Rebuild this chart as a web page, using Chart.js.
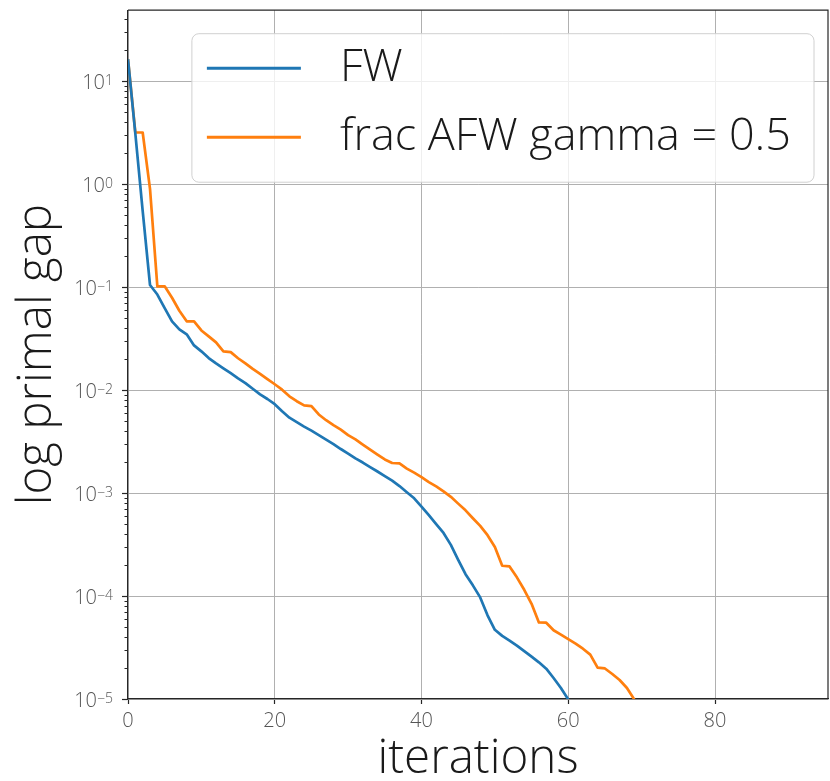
<!DOCTYPE html>
<html>
<head>
<meta charset="utf-8">
<script src="https://cdn.jsdelivr.net/npm/chart.js@4.4.0/dist/chart.umd.min.js"></script>
<style>
    html, body { margin: 0; padding: 0; background: #ffffff; }
    #wrap { width: 830px; height: 781px; }
</style>
</head>
<body>
<div id="wrap"><canvas id="gapChart" width="830" height="781"></canvas></div>
<script>
// Data
const iterations = [0, 1, 2, 3, 4, 5, 6, 7, 8, 9, 10, 11, 12, 13, 14, 15, 16, 17, 18, 19,
    20, 21, 22, 23, 24, 25, 26, 27, 28, 29, 30, 31, 32, 33, 34, 35, 36, 37, 38, 39,
    40, 41, 42, 43, 44, 45, 46, 47, 48, 49, 50, 51, 52, 53, 54, 55, 56, 57, 58, 59,
    60, 61, 62, 63, 64, 65, 66, 67, 68, 69];

const fwGap = [16.4, 3.1, 0.55, 0.105, 0.0848, 0.0627, 0.0466, 0.0389, 0.0348, 0.0272,
    0.0238, 0.0205, 0.0182, 0.0163, 0.0146, 0.0130, 0.0117, 0.0103, 0.0091, 0.0082,
    0.0073, 0.00625, 0.0054, 0.00489, 0.00442, 0.00404, 0.00366, 0.00331, 0.00299, 0.00268,
    0.00242, 0.00217, 0.00198, 0.00179, 0.00162, 0.00146, 0.00132, 0.00117, 0.00102, 0.00089,
    0.00074, 0.00061, 0.0005, 0.00041, 0.000314, 0.000225, 0.000163, 0.000127, 0.000097, 0.000065,
    0.000047, 0.000041, 0.0000369, 0.000033, 0.0000292, 0.0000258, 0.0000227, 0.0000197, 0.000016, 0.0000128,
    0.0000099];

const afwGap = [16.4, 3.18, 3.18, 0.9, 0.102, 0.102, 0.079, 0.059, 0.0466, 0.0466,
    0.038, 0.0333, 0.0291, 0.0238, 0.0234, 0.0204, 0.0182, 0.0161, 0.0144, 0.0128,
    0.0114, 0.0101, 0.0087, 0.0078, 0.0071, 0.0070, 0.0058, 0.0051, 0.00457, 0.00413,
    0.00366, 0.00332, 0.00296, 0.00264, 0.00236, 0.00212, 0.00196, 0.00194, 0.00173, 0.00158,
    0.00143, 0.00128, 0.00116, 0.00104, 0.00092, 0.00079, 0.00068, 0.00057, 0.00048, 0.00039,
    0.0003, 0.000197, 0.000194, 0.000152, 0.000115, 0.0000841, 0.0000554, 0.0000551, 0.0000465, 0.0000422,
    0.0000381, 0.0000345, 0.0000308, 0.000027, 0.0000202, 0.0000198, 0.0000175, 0.0000153, 0.0000128, 0.0000099];

const seriesNames = ['FW', 'frac AFW gamma = 0.5'];
const seriesColors = ['#1f77b4', '#ff7f0e'];
const xTicks = [0, 20, 40, 60, 80];
const yTickExponents = [-5, -4, -3, -2, -1, 0, 1];
const xRange = [0, 95.4];
const yRange = [1e-5, 49];

const FONT = "'Open Sans', 'DejaVu Sans', sans-serif";
const SPINE = '#262626';
const TEXT_WEIGHT = '300';

// spines on top/right, minor log ticks, 10^n labels and the framed legend
const decorations = {
    id: 'decorations',
    afterDraw(chart) {
        const { ctx, chartArea: area } = chart;
        const y = chart.scales.y;
        ctx.save();

        ctx.strokeStyle = SPINE;
        ctx.lineWidth = 1.2;
        ctx.beginPath();
        ctx.moveTo(area.left, area.top);
        ctx.lineTo(area.right, area.top);
        ctx.lineTo(area.right, area.bottom);
        ctx.stroke();

        // minor ticks
        ctx.lineWidth = 1;
        yTickExponents.forEach(e => {
            for (let m = 2; m <= 9; m++) {
                const v = m * Math.pow(10, e);
                if (v > y.max) continue;
                const py = Math.round(y.getPixelForValue(v)) + 0.5;
                ctx.beginPath();
                ctx.moveTo(area.left - 3.5, py);
                ctx.lineTo(area.left, py);
                ctx.stroke();
            }
        });

        // tick labels with superscript exponent
        const labelRight = area.left - 15;
        ctx.fillStyle = '#555555';
        ctx.textAlign = 'right';
        ctx.textBaseline = 'alphabetic';
        yTickExponents.forEach(e => {
            const py = y.getPixelForValue(Math.pow(10, e));
            const sup = e < 0 ? '\u2212' + (-e) : String(e);
            ctx.font = '300 14px ' + FONT;
            const supW = ctx.measureText(sup).width;
            ctx.fillText(sup, labelRight, py + 3.5);
            ctx.font = '300 20px ' + FONT;
            ctx.fillText('10', labelRight - supW, py + 8);
        });

        // legend
        const ds = chart.data.datasets;
        ctx.font = TEXT_WEIGHT + ' 45px ' + FONT;
        const textW = Math.max(...ds.map(d => ctx.measureText(d.label).width));
        const right = area.right - 14;
        const top = area.top + 23.5;
        const bottom = area.top + 172;
        const left = right - (15 + 94 + 39 + textW + 23);
        const r = 7;
        ctx.beginPath();
        ctx.moveTo(left + r, top);
        ctx.lineTo(right - r, top);
        ctx.arcTo(right, top, right, top + r, r);
        ctx.lineTo(right, bottom - r);
        ctx.arcTo(right, bottom, right - r, bottom, r);
        ctx.lineTo(left + r, bottom);
        ctx.arcTo(left, bottom, left, bottom - r, r);
        ctx.lineTo(left, top + r);
        ctx.arcTo(left, top, left + r, top, r);
        ctx.closePath();
        ctx.fillStyle = 'rgba(255,255,255,0.8)';
        ctx.fill();
        ctx.strokeStyle = '#d0d0d0';
        ctx.lineWidth = 1;
        ctx.stroke();

        ds.forEach((d, i) => {
            const ry = top + 34.5 + i * 69;
            ctx.strokeStyle = d.borderColor;
            ctx.lineWidth = 3;
            ctx.beginPath();
            ctx.moveTo(left + 15, ry);
            ctx.lineTo(left + 109, ry);
            ctx.stroke();
            ctx.fillStyle = '#1a1a1a';
            ctx.textAlign = 'left';
            ctx.textBaseline = 'middle';
            ctx.fillText(d.label, left + 148, ry);
        });

        ctx.restore();
    }
};

const ctx = document.getElementById('gapChart').getContext('2d');
const gapChart = new Chart(ctx, {
    type: 'line',
    data: {
        labels: iterations,
        datasets: [
            { label: seriesNames[0], data: fwGap },
            { label: seriesNames[1], data: afwGap }
        ].map((d, i) => Object.assign(d, {
            borderColor: seriesColors[i],
            backgroundColor: seriesColors[i],
            borderWidth: 2.7,
            pointRadius: 0,
            fill: false,
            tension: 0,
            borderJoinStyle: 'round'
        }))
    },
    options: {
        responsive: false,
        devicePixelRatio: 1,
        animation: false,
        layout: { padding: { left: 0, right: 2, top: 8, bottom: 0 } },
        plugins: {
            legend: { display: false },
            tooltip: { enabled: false }
        },
        scales: {
            x: {
                type: 'linear',
                min: xRange[0],
                max: xRange[1],
                afterBuildTicks: s => { s.ticks = xTicks.map(v => ({ value: v })); },
                afterFit: s => { s.height = 82; },
                grid: {
                    color: '#b0b0b0',
                    lineWidth: 1,
                    tickLength: 5,
                    tickColor: SPINE,
                    tickWidth: 1.2
                },
                border: { display: true, color: SPINE, width: 1.2 },
                ticks: {
                    color: '#555555',
                    font: { family: FONT, size: 20, weight: '300' },
                    padding: 5,
                    maxRotation: 0
                },
                title: {
                    display: true,
                    text: 'iterations',
                    color: '#1a1a1a',
                    font: { family: FONT, size: 47.5, weight: TEXT_WEIGHT, lineHeight: 1.05 },
                    padding: { top: 0, bottom: -3 }
                }
            },
            y: {
                type: 'logarithmic',
                min: yRange[0],
                max: yRange[1],
                afterBuildTicks: s => { s.ticks = yTickExponents.map(e => ({ value: Math.pow(10, e) })); },
                afterFit: s => { s.width = 128; },
                grid: {
                    color: '#b0b0b0',
                    lineWidth: 1,
                    tickLength: 6,
                    tickColor: SPINE,
                    tickWidth: 1.2
                },
                border: { display: true, color: SPINE, width: 1.2 },
                ticks: {
                    // drawn by the decorations plugin (superscripts)
                    callback: () => '',
                    autoSkip: false
                },
                title: {
                    display: true,
                    text: 'log primal gap',
                    color: '#1a1a1a',
                    font: { family: FONT, size: 47.5, weight: TEXT_WEIGHT, lineHeight: 1.05 },
                    padding: { top: 13, bottom: 0 }
                }
            }
        }
    },
    plugins: [decorations]
});
</script>
</body>
</html>
